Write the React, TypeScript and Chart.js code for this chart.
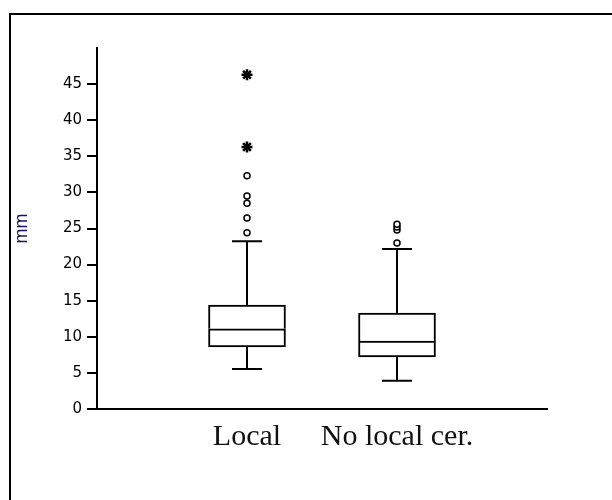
import { useEffect, useRef } from 'react';
import { Chart, registerables } from 'chart.js';

Chart.register(...registerables);

// ---- data ----
const categories = ['Local', 'No local cer.'];
const categoryPositions = [1, 2];
const whiskerLow = [5.55, 3.9];
const q1 = [8.6, 7.2];
const median = [11.1, 9.4];
const q3 = [14.4, 13.3];
const whiskerHigh = [23.25, 22.15];
const outliersLocal = [24.4, 26.45, 28.5, 29.5, 32.3];
const outliersNoLocal = [23.0, 24.8, 25.2, 25.6];
const extremesLocal = [36.3, 46.3];
const extremesNoLocal: number[] = [];
const yTickValues = [0, 5, 10, 15, 20, 25, 30, 35, 40, 45];
const yAxisTitle = 'mm';

const outliers = [outliersLocal, outliersNoLocal];
const extremes = [extremesLocal, extremesNoLocal];
const CAP_HALF = 0.1; // whisker cap half-width in category units

export default function App() {
  const ref = useRef<HTMLCanvasElement | null>(null);

  useEffect(() => {
    if (!ref.current) return;

    const lowerBox = categoryPositions.map((x, i) => ({ x, y: [q1[i], median[i]] }));
    const upperBox = categoryPositions.map((x, i) => ({ x, y: [median[i], q3[i]] }));

    const whiskerPts: any[] = [];
    categoryPositions.forEach((x, i) => {
      whiskerPts.push({ x: x - CAP_HALF, y: whiskerHigh[i] });
      whiskerPts.push({ x: x + CAP_HALF, y: whiskerHigh[i] });
      whiskerPts.push({ x: x + CAP_HALF, y: null });
      whiskerPts.push({ x, y: whiskerHigh[i] });
      whiskerPts.push({ x, y: q3[i] });
      whiskerPts.push({ x, y: null });
      whiskerPts.push({ x, y: q1[i] });
      whiskerPts.push({ x, y: whiskerLow[i] });
      whiskerPts.push({ x, y: null });
      whiskerPts.push({ x: x - CAP_HALF, y: whiskerLow[i] });
      whiskerPts.push({ x: x + CAP_HALF, y: whiskerLow[i] });
      whiskerPts.push({ x: x + CAP_HALF, y: null });
    });

    const outlierPts: any[] = [];
    outliers.forEach((arr, i) => arr.forEach((v) => outlierPts.push({ x: categoryPositions[i], y: v })));
    const extremePts: any[] = [];
    extremes.forEach((arr, i) => arr.forEach((v) => extremePts.push({ x: categoryPositions[i], y: v })));

    const chart = new Chart(ref.current, {
      type: 'bar',
      data: {
        datasets: [
          {
            type: 'line',
            data: outlierPts,
            showLine: false,
            pointStyle: 'circle',
            pointRadius: 3,
            pointBorderWidth: 1.5,
            pointBorderColor: '#000',
            pointBackgroundColor: '#fff',
          } as any,
          {
            type: 'line',
            data: extremePts,
            showLine: false,
            pointStyle: 'star',
            pointRadius: 5.5,
            pointBorderWidth: 2.5,
            pointBorderColor: '#000',
            pointBackgroundColor: '#000',
          } as any,
          {
            type: 'line',
            data: whiskerPts,
            borderColor: '#000',
            borderWidth: 2,
            pointRadius: 0,
            spanGaps: false,
            tension: 0,
          } as any,
          {
            type: 'bar',
            data: lowerBox,
            backgroundColor: '#fff',
            borderColor: '#000',
            borderWidth: { top: 2, bottom: 2, left: 2, right: 2 },
            borderSkipped: false,
            barThickness: 77,
            grouped: false,
          } as any,
          {
            type: 'bar',
            data: upperBox,
            backgroundColor: '#fff',
            borderColor: '#000',
            borderWidth: { top: 2, bottom: 0, left: 2, right: 2 },
            borderSkipped: false,
            barThickness: 77,
            grouped: false,
          } as any,
        ],
      },
      options: {
        animation: false,
        responsive: false,
        events: [],
        layout: { padding: { left: 11, right: 65, top: 48, bottom: 0 } },
        plugins: { legend: { display: false }, tooltip: { enabled: false } },
        scales: {
          x: {
            type: 'linear',
            min: 0,
            max: 3,
            offset: false,
            grid: { display: false },
            border: { display: true, color: '#000', width: 2 },
            afterBuildTicks: (scale: any) => {
              scale.ticks = categoryPositions.map((v) => ({ value: v }));
            },
            afterFit: (scale: any) => {
              scale.height = 91;
            },
            ticks: {
              autoSkip: false,
              maxRotation: 0,
              padding: 2,
              color: '#111',
              font: { family: '"Liberation Serif", "Times New Roman", serif', size: 30 },
              callback: (v: any) => {
                const idx = categoryPositions.indexOf(Number(v));
                return idx >= 0 ? categories[idx] : '';
              },
            },
          },
          y: {
            type: 'linear',
            min: 0,
            max: 50,
            afterBuildTicks: (scale: any) => {
              scale.ticks = yTickValues.map((v) => ({ value: v }));
            },
            afterFit: (scale: any) => {
              scale.width = 86;
            },
            grid: {
              drawOnChartArea: false,
              drawTicks: true,
              tickLength: 10,
              color: '#000',
              lineWidth: 2,
            },
            border: { display: true, color: '#000', width: 2 },
            ticks: {
              padding: 5,
              color: '#000',
              font: { family: '"DejaVu Sans", Verdana, sans-serif', size: 15 },
            },
            title: {
              display: true,
              text: yAxisTitle,
              color: '#14145a',
              font: { family: '"Liberation Sans", Arial, sans-serif', size: 18 },
              padding: { top: 0, bottom: 0 },
            },
          },
        },
      },
    });

    return () => chart.destroy();
  }, []);

  return (
    <div>
      <div
        style={{
          position: 'fixed',
          left: 9,
          top: 13,
          width: 603,
          height: 487,
          boxSizing: 'border-box',
          borderLeft: '2px solid #000',
          borderTop: '2px solid #000',
        }}
      />
      <canvas
        ref={ref}
        width={612}
        height={500}
        style={{ position: 'fixed', left: 0, top: 0, width: 612, height: 500 }}
      />
    </div>
  );
}
